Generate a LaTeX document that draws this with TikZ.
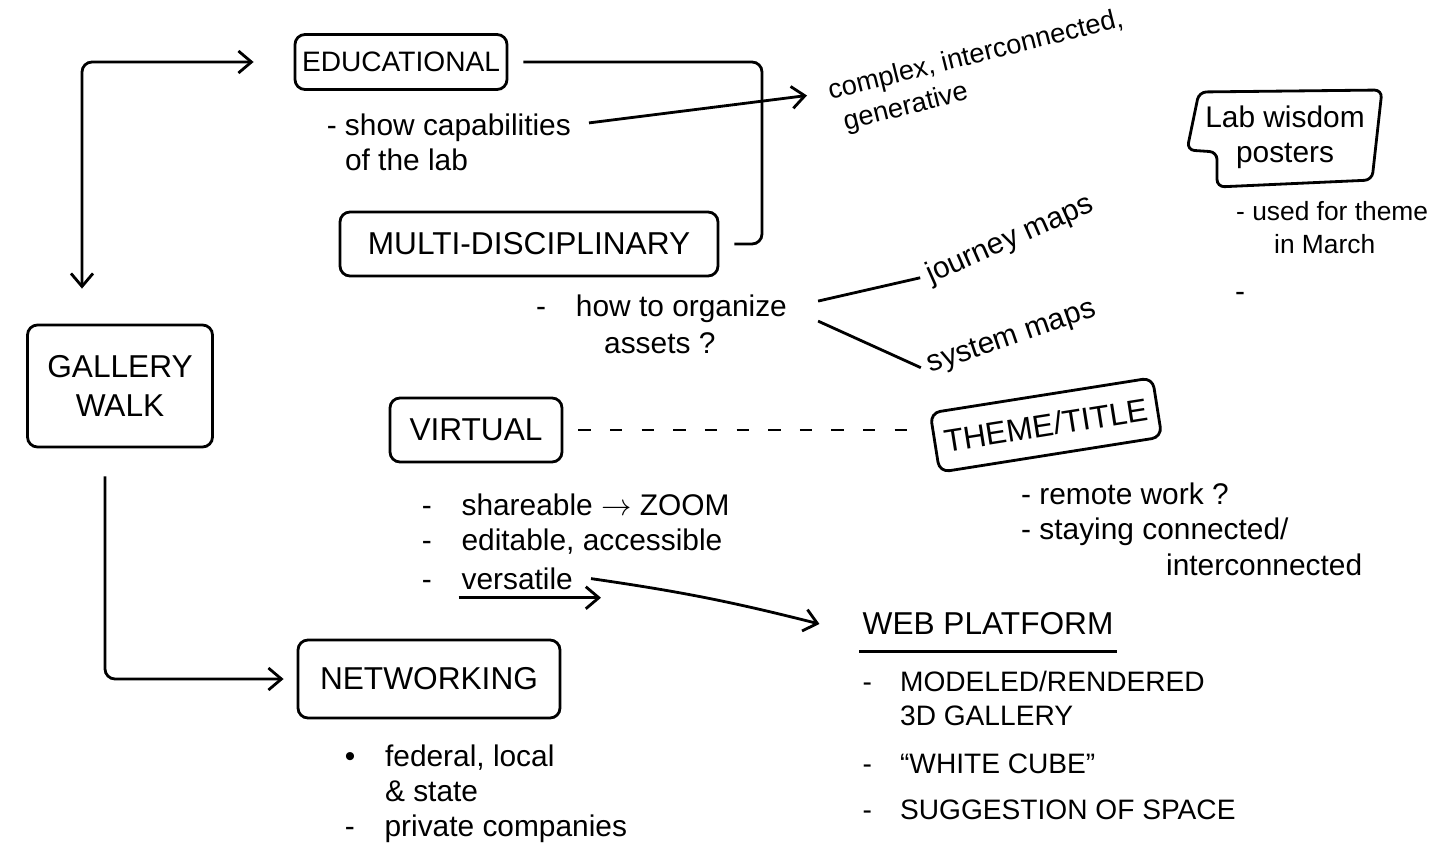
\documentclass[tikz,border=0pt]{standalone}
\usepackage{fontspec}
\setmainfont{Liberation Sans}
\usetikzlibrary{positioning,arrows.meta}
\newcommand{\boxfont}{\fontsize{18}{22}\selectfont}
\newcommand{\notefont}{\fontsize{17}{20}\selectfont}
\newcommand{\webfont}{\fontsize{16}{19}\selectfont}

\begin{document}
\begin{tikzpicture}[%
    x=0.2mm, y=-0.2mm,          % one unit = one pixel of the sketch, y going down
    >={Straight Barb[length=2.6mm,width=4.4mm]}, % open hand-drawn tips
    line width=1.6pt,           % marker-pen strokes
    ]
% -------------------------------------------------
% Box and text styles
\tikzset{
  box/.style={draw, rounded corners=2mm, align=center, font=\boxfont, inner sep=3pt},
  note/.style={align=left, font=\notefont, inner sep=1pt},
  head/.style={font=\boxfont, inner sep=1pt},
  % Connector line styles
  link/.style={draw, rounded corners=2mm},
  arr/.style={->, rounded corners=2mm},
  dots/.style={dash pattern=on 7pt off 11pt},
}
\useasboundingbox (0,0) rectangle (1450,844);
% -------------------------------------------------
% Start by placing the boxes

\node [box, minimum width=37mm, minimum height=24.4mm] (gallery) at (120,386) {GALLERY\\WALK};
\node [box, font=\fontsize{16}{19}\selectfont, minimum width=42.4mm, minimum height=11mm] (edu) at (401,62) {EDUCATIONAL};
\node [box, minimum width=75.6mm, minimum height=12.8mm] (multi) at (529,244) {MULTI-DISCIPLINARY};
\node [box, minimum width=34.4mm, minimum height=12.8mm] (virtual) at (476,430) {VIRTUAL};
\node [box, minimum width=45mm, minimum height=12mm, rotate=9] (theme) at (1046,425) {THEME/TITLE};
\node [box, minimum width=52.4mm, minimum height=15.6mm] (net) at (429,679) {NETWORKING};
\node [head] (web) at (988,624) {WEB PLATFORM};
\node [note, align=center] (lab) at (1285,137) {Lab wisdom\\posters};

% -------------------------------------------------
% Notes under the boxes
\node [note, below right=4mm and 6mm of edu.south west] (cap) {- show capabilities\\\phantom{- }of the lab};
\node [note, font=\fontsize{15.5}{19}\selectfont, rotate=14, anchor=north west] (complex) at (822,78) {complex, interconnected,\\\hspace*{1.5mm}generative};
\node [note, anchor=north west] (org1) at (533,292) {-\quad how to organize};
\node [note, below right=0.6mm and 13.6mm of org1.south west] (org2) {assets ?};
\node [note, rotate=24] (journey) at (1010,240) {journey maps};
\node [note, rotate=19] (system) at (1012,338) {system maps};
\node [note, font=\fontsize{15}{19}\selectfont, anchor=north west] (used) at (1233,198) {- used for theme\\\hspace*{7.6mm}in March};
\node [note] (dash) at (1240,297) {-};
\node [note, below right=5.4mm and 6mm of virtual.south west] (vn1) {-\quad shareable $\rightarrow$ ZOOM};
\node [note, below right=1.4mm and 0mm of vn1.south west] (vn2) {-\quad editable, accessible};
\node [note, below right=1.4mm and 0mm of vn2.south west] (vn3) {-\quad versatile};
\node [note, anchor=north west] (remote) at (1018,480) {- remote work ?\\- staying connected/\\\hspace*{29mm}interconnected};
\node [note, below right=4.4mm and 9mm of net.south west] (netnotes) {\textbullet\quad federal, local\\\phantom{\textbullet\quad}\& state\\-\quad private companies};
\node [note, font=\webfont, below right=6mm and 0mm of web.south west] (webitems) {-\quad MODELED/RENDERED\\\phantom{-\quad}3D GALLERY\\[3mm]-\quad “WHITE CUBE”\\[2.4mm]-\quad SUGGESTION OF SPACE};

% -------------------------------------------------
% Connectors
\draw[<->, rounded corners=2mm] ([xshift=-8mm]edu.west) -| ([xshift=-7.6mm,yshift=7mm]gallery.north);	%Educational,Gallery Walk
\draw[arr] ([xshift=-3mm,yshift=-5.6mm]gallery.south) |- ([xshift=-2.6mm]net.west);	%Gallery Walk,Networking
\coordinate (brk) at (762,150);
\draw[link] ([xshift=3mm]edu.east) -- (edu.east -| brk) -- (multi.east -| brk) -- ([xshift=3mm]multi.east);	%Educational,Multi-disciplinary
\draw[->] ([xshift=3mm,yshift=-2.4mm]cap.north east) -- ([shift={(-3mm,-3.5mm)}]complex.north west);	%capabilities,complex
\draw[link] ([shift={(5.6mm,1.6mm)}]org1.east) -- ([xshift=-1mm]journey.west);	%organize,journey maps
\draw[link] ([shift={(5.6mm,-2.4mm)}]org1.east) -- ([xshift=-1mm]system.west);	%organize,system maps
\coordinate (thw) at ([xshift=-3mm]theme.west);
\draw[dots] ([xshift=3mm]virtual.east) -- (thw |- virtual.east);	%Virtual,Theme/Title
\draw[->] ([xshift=8mm,yshift=-1mm]vn3.south west) -- ([xshift=5mm,yshift=-1mm]vn3.south east);	%underline versatile
\draw[->] ([xshift=3mm]vn3.east) to[bend left=3] ([xshift=-8mm]web.west);	%versatile,Web Platform
\draw ([yshift=-2.6mm]web.south west) -- ([yshift=-2.6mm]web.south east);	%underline Web Platform
% speech bubble round the posters
\draw[link, rounded corners=1.5mm] ([shift={(-17.2mm,9mm)}]lab.center) -- ([shift={(19.4mm,9.4mm)}]lab.center)
  -- ([shift={(17.4mm,-8.6mm)}]lab.center) -- ([shift={(-13.6mm,-10mm)}]lab.center)
  -- ([shift={(-13.6mm,-3mm)}]lab.center) -- ([shift={(-19.6mm,-2.6mm)}]lab.center) -- cycle;

% -------------------------------------------------
\end{tikzpicture}
\end{document}
